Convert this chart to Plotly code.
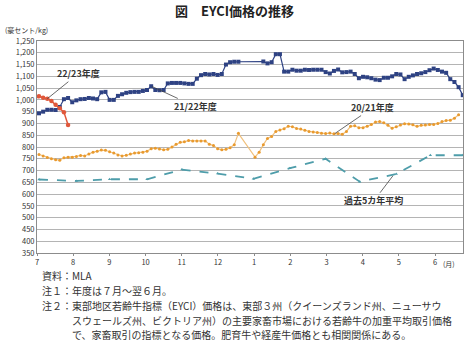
import plotly.graph_objects as go

# ---------------- data ----------------
# observations roughly twice a week, index in weeks from early July
n_obs = 103
obs_week = [i * 0.5 for i in range(n_obs)]

fy2122 = [
    943, 950, 958, 958, 957, 970, 1003, 1008, 990, 998,
    1003, 1004, 1008, 1006, 1003, 1032, 1034, 1000, 1000, 1017,
    1024, 1030, 1033, 1034, 1034, 1038, 1042, 1058, 1042, 1041,
    1042, 1070, 1072, 1072, 1072, 1070, 1068, 1068, 1090, 1105,
    1110, 1108, 1110, 1106, 1110, 1150, 1160, 1162, 1162, None,
    None, None, None, None, 1163, 1155, 1160, 1194, 1194, 1120,
    1120, 1128, 1124, 1124, 1128, 1127, 1128, 1128, 1128, 1118,
    1112, 1123, 1129, 1117, 1118, 1120, 1110, 1092, 1098, 1096,
    1092, 1086, 1084, 1094, 1094, 1100, 1110, 1108, 1088, 1098,
    1104, 1110, 1113, 1118, 1126, 1133, 1127, 1120, 1115, 1088,
    1076, 1054, 1020,
]

fy2021 = [
    768, 762, 755, 750, 746, 744, 754, 757, 757, 760,
    764, 762, 770, 778, 782, 787, 786, 780, 774, 766,
    762, 765, 770, 774, 776, 778, 782, 793, 795, 792,
    788, 790, 800, 812, 820, 822, 828, 826, 826, 826,
    826, 812, 806, 793, 788, 790, 797, 810, 858, None,
    None, None, 757, 778, 810, 836, 845, 866, 872, 878,
    888, 886, 879, 876, 871, 866, 864, 862, 858, 857,
    859, 856, 857, 854, 866, 888, 890, 882, 882, 888,
    895, 906, 908, 903, 892, 880, 886, 893, 899, 898,
    894, 888, 892, 893, 895, 896, 900, 908, 913, 914,
    922, 937, None,
]

fy2223 = [1015, 1009, 1005, 995, 979, 965, 948, 893]

avg5_week = [0, 4.5, 8.5, 13, 17.2, 21.5, 25.8, 30.2, 34.5, 38.6, 43, 47.1, 51]
avg5 = [662, 656, 663, 663, 704, 687, 665, 710, 750, 653, 685, 765, 765]

month_labels = ["7", "8", "9", "10", "11", "12", "1", "2", "3", "4", "5", "6"]

# ---------------- figure ----------------
FONT = "Noto Sans CJK JP"
fig = go.Figure()

fig.add_trace(go.Scatter(
    x=avg5_week, y=avg5, mode="lines+markers", name="過去5カ年平均",
    line=dict(color="#4E9DAA", width=1.8, dash="dash"),
    marker=dict(symbol="triangle-up", size=3, color="#4E9DAA"),
))
fig.add_trace(go.Scatter(
    x=obs_week, y=fy2021, mode="lines+markers", name="20/21年度",
    connectgaps=True,
    line=dict(color="#F0C07C", width=1.2),
    marker=dict(symbol="circle", size=3, color="#E99A2E"),
))
fig.add_trace(go.Scatter(
    x=obs_week, y=fy2122, mode="lines+markers", name="21/22年度",
    connectgaps=True,
    line=dict(color="#2E4283", width=1.2),
    marker=dict(symbol="square", size=4, color="#2E4283"),
))
fig.add_trace(go.Scatter(
    x=obs_week[:len(fy2223)], y=fy2223, mode="lines+markers", name="22/23年度",
    line=dict(color="#E0573A", width=1.5),
    marker=dict(symbol="circle", size=4.5, color="#E0573A"),
))

month_step = 4.356
tickvals = [-0.24 + k * month_step for k in range(len(month_labels))]

fig.update_xaxes(
    range=[-0.24, 51.03], tickvals=tickvals, ticktext=month_labels,
    showgrid=False, showline=True, linecolor="#8C8C8C", linewidth=1,
    mirror=True, ticks="outside", ticklen=2, tickcolor="#8C8C8C",
    tickfont=dict(family=FONT, size=7.5, color="#333333"), zeroline=False,
)
fig.update_yaxes(
    range=[350, 1250], dtick=50, tickformat=",d",
    showgrid=True, gridcolor="#B4B4B4", gridwidth=1,
    showline=True, linecolor="#8C8C8C", linewidth=1, mirror=True,
    ticks="", tickfont=dict(family=FONT, size=7.5, color="#333333"),
    zeroline=False,
)

def py(p):
    return (252.7 - p) / 212.0

def px(p):
    return (p - 37) / 426.0

ann = []
ann.append(dict(text="<b>図　EYCI価格の推移</b>", x=px(234), y=py(10), xref="paper", yref="paper",
                yanchor="middle", showarrow=False, font=dict(family=FONT, size=13, color="#222222")))
ann.append(dict(text="(豪セント/kg)", x=px(3), y=py(30), xref="paper", yref="paper",
                xanchor="left", yanchor="middle", showarrow=False,
                font=dict(family=FONT, size=7, color="#333333")))
ann.append(dict(text="(月)", x=px(457), y=py(264), xref="paper", yref="paper",
                yanchor="middle", showarrow=False, font=dict(family=FONT, size=7, color="#333333")))

lab_font = dict(family=FONT, size=9, color="#333333")
for txt, xw, yv, ax, ay in [
    ("22/23年度", 1.0, 1005, 31, -25),
    ("21/22年度", 13.6, 1057, 43, 20),
    ("20/21年度", 35.6, 857, 38, -26),
    ("過去5カ年平均", 42.6, 678, -19, 25),
]:
    ann.append(dict(text="<b>" + txt + "</b>", x=xw, y=yv, xref="x", yref="y", ax=ax, ay=ay,
                    showarrow=True, arrowhead=0, arrowwidth=0.8, arrowcolor="#444444",
                    standoff=0, font=lab_font))

notes = [
    ("資料：MLA", 40, 275),
    ("注１：年度は７月～翌６月。", 40, 290),
    ("注２：東部地区若齢牛指標（EYCI）価格は、東部３州（クイーンズランド州、ニューサウ", 40, 305),
    ("スウェールズ州、ビクトリア州）の主要家畜市場における若齢牛の加重平均取引価格", 70, 320),
    ("で、家畜取引の指標となる価格。肥育牛や経産牛価格とも相関関係にある。", 70, 334),
]
for txt, xx, yy in notes:
    ann.append(dict(text=txt, x=px(xx), y=py(yy), xref="paper", yref="paper",
                    xanchor="left", yanchor="middle", showarrow=False,
                    font=dict(family=FONT, size=10, color="#333333")))

fig.update_layout(
    width=467, height=341,
    margin=dict(l=37, r=4, t=41, b=88),
    paper_bgcolor="white", plot_bgcolor="white",
    showlegend=False, annotations=ann,
)

fig.write_html("out.html")
